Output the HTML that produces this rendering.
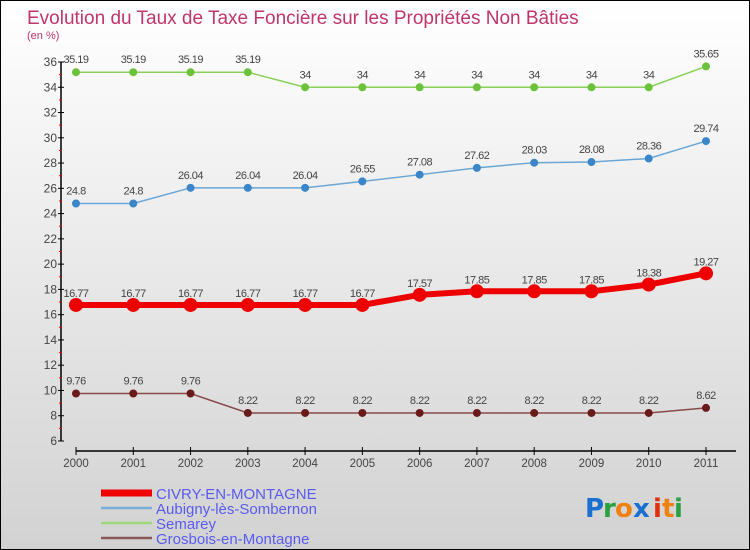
<!DOCTYPE html>
<html><head><meta charset="utf-8"><style>
body{margin:0;}
#c{width:748px;height:548px;border:1px solid #000;background:linear-gradient(#ffffff,#d2d2d2);position:relative;font-family:"Liberation Sans",sans-serif;overflow:hidden}
</style></head><body>
<div id="c">
<svg id="s" width="748" height="548" style="position:absolute;left:0;top:0">
<text x="26" y="23" font-size="19" fill="#c0356a">Evolution du Taux de Taxe Foncière sur les Propriétés Non Bâties</text>
<text x="26" y="38" font-size="11" fill="#c0356a">(en %)</text>
<g id="axes"></g><g id="series"></g><g id="legend"></g>
<g font-size="26" font-weight="bold" font-family="DejaVu Sans, sans-serif">
<text x="584" y="516" fill="#1a6fcf">P</text><text x="602" y="516" fill="#2aa040">r</text><text x="614" y="516" fill="#f08010">o</text><text x="632" y="516" fill="#1a6fcf">x</text><text x="652" y="516" fill="#e03010">i</text><text x="661" y="516" fill="#f08010">t</text><text x="673" y="516" fill="#2aa040">i</text>
</g>
</svg>
</div>
<script>
const years=[2000,2001,2002,2003,2004,2005,2006,2007,2008,2009,2010,2011];
const civry=[16.77,16.77,16.77,16.77,16.77,16.77,17.57,17.85,17.85,17.85,18.38,19.27];
const aubigny=[24.8,24.8,26.04,26.04,26.04,26.55,27.08,27.62,28.03,28.08,28.36,29.74];
const semarey=[35.19,35.19,35.19,35.19,34,34,34,34,34,34,34,35.65];
const grosbois=[9.76,9.76,9.76,8.22,8.22,8.22,8.22,8.22,8.22,8.22,8.22,8.62];
const yTicks=[6,8,10,12,14,16,18,20,22,24,26,28,30,32,34,36];
const seriesNames=["CIVRY-EN-MONTAGNE","Aubigny-lès-Sombernon","Semarey","Grosbois-en-Montagne"];
const NS="http://www.w3.org/2000/svg";
function x(i){return 75+i*(705-75)/11;}
function y(v){return 440-(v-6)*(440-61)/30;}
function mk(t,a,p){const e=document.createElementNS(NS,t);for(const k in a)e.setAttribute(k,a[k]);p.appendChild(e);return e;}
const ax=document.getElementById('axes');
const yl=mk('line',{x1:60,y1:y(36),x2:60,y2:y(6),stroke:'#000','stroke-width':1.5},ax);


yTicks.forEach(v=>{
 mk('line',{x1:57,x2:63,y1:y(v),y2:y(v),stroke:'#000'},ax);
 if(v<36)mk('line',{x1:58,x2:61,y1:y(v+1),y2:y(v+1),stroke:'#e00'},ax);
 const t=mk('text',{x:56,y:y(v)+4,'text-anchor':'end','font-size':12,fill:'#444'},ax);t.textContent=v;
 
 
});
const xl=mk('line',{x1:75,y1:450,x2:735,y2:450,stroke:'#000','stroke-width':1.5},ax);


years.forEach((yr,i)=>{
 mk('line',{x1:x(i),x2:x(i),y1:446,y2:454,stroke:'#000'},ax);
 const t=mk('text',{x:x(i),y:466,'text-anchor':'middle','font-size':11.5,fill:'#444'},ax);t.textContent=yr;
 
 
});
const se=document.getElementById('series');
const defs=[[semarey,'#88d058','#6cc23a',1.5,4,'semarey'],[aubigny,'#6aa6d6','#3a86c8',1.5,4,'aubigny'],[civry,'#ee0000','#ee0000',6,7,'civry'],[grosbois,'#8a4a4a','#6a1a1a',1.5,4,'grosbois']];
defs.forEach(([d,lc,pc,w,r,n])=>{
 const g=mk('g',{},se);
 
 
 mk('polyline',{points:d.map((v,i)=>x(i)+','+y(v)).join(' '),fill:'none',stroke:lc,'stroke-width':w},g);
 d.forEach((v,i)=>{
  const c=mk('circle',{cx:x(i),cy:y(v),r:r,fill:pc},g);
  
  
  const t=mk('text',{x:x(i),y:y(v)-(n==='civry'?8:9),'text-anchor':'middle','font-size':11,fill:'#444','letter-spacing':'-0.5'},g);t.textContent=v;
  
  
 });
});
const lg=document.getElementById('legend');
const lc=[['#ee0000',7],['#7aaed6',2.5],['#9ad878',2.5],['#8a5a5a',2.5]];
seriesNames.forEach((nm,i)=>{
 const yy=492+i*15;
 const g=mk('g',{},lg);
 
 
 mk('line',{x1:100,x2:151,y1:yy,y2:yy,stroke:lc[i][0],'stroke-width':lc[i][1]},g);
 const t=mk('text',{x:155,y:yy+6,'font-size':15,fill:'#5a5af0'},g);t.textContent=nm;
});
</script>
</body></html>
